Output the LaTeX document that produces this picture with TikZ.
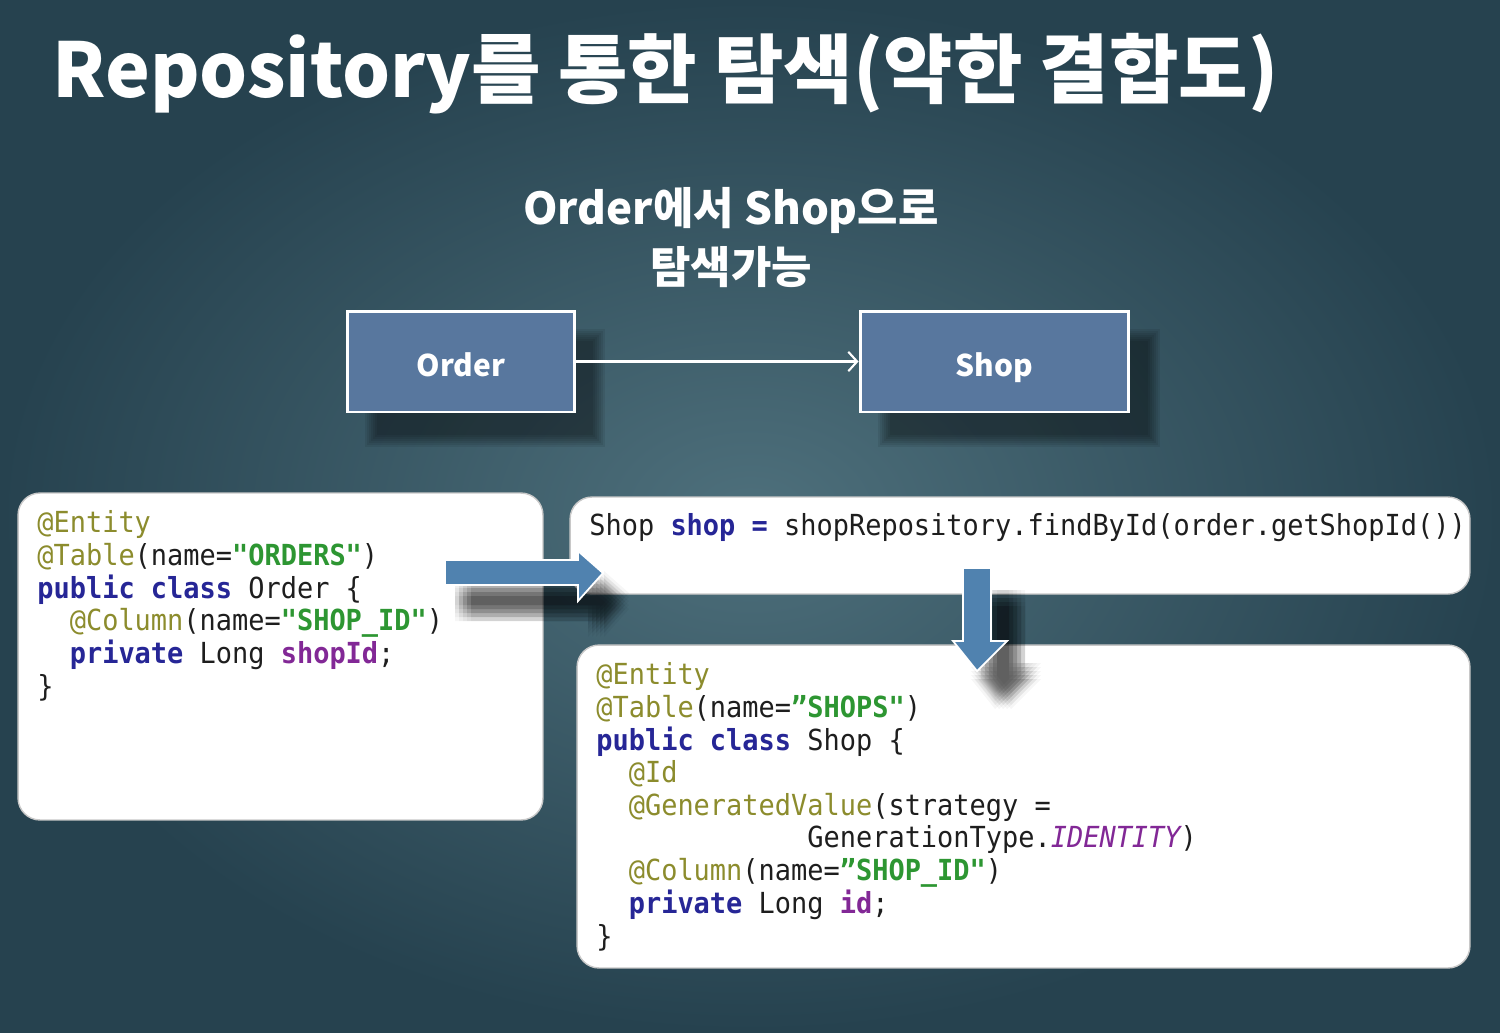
\documentclass[tikz,border=0pt]{standalone}
\usepackage{fontspec}
\setmainfont{Noto Sans CJK KR}
\setmonofont{DejaVu Sans Mono}[FakeStretch=0.93]
\usetikzlibrary{arrows.meta}

\definecolor{bgbase}{RGB}{50,82,95}
\definecolor{bglight}{RGB}{78,112,124}
\definecolor{bgdark}{RGB}{38,66,79}
\definecolor{entityfill}{RGB}{88,119,158}
\definecolor{arrowblue}{RGB}{80,130,175}
\definecolor{anno}{RGB}{140,140,45}
\definecolor{kwc}{RGB}{38,38,150}
\definecolor{strc}{RGB}{45,150,50}
\definecolor{fldc}{RGB}{130,40,150}
\definecolor{plainc}{RGB}{30,30,30}
\definecolor{boxedge}{RGB}{200,200,200}

\newcommand\cAn[1]{\textcolor{anno}{#1}}
\newcommand\cKw[1]{\textcolor{kwc}{\bfseries #1}}
\newcommand\cSt[1]{\textcolor{strc}{\bfseries #1}}
\newcommand\cFd[1]{\textcolor{fldc}{\bfseries #1}}

\newcommand\harrowpath[1]{\path[#1] (445,560) -- (578,560) -- (578,551) -- (603,573) -- (578,601) -- (578,585) -- (445,585) -- cycle;}
\newcommand\varrowpath[1]{\path[#1] (963,568) -- (991,568) -- (991,641) -- (1007,641) -- (977,671) -- (953,641) -- (963,641) -- cycle;}
\newcommand\softshadow[4]{%
  \foreach \k in {0,2,...,12} {\fill[black,opacity=0.075] (#1+\k,#2+\k) rectangle (#3-\k,#4-\k);}}

\tikzset{
  titlestyle/.style={text=white, inner sep=0, font=\fontsize{43}{50}\selectfont\bfseries},
  substyle/.style={text=white, inner sep=0, font=\fontsize{25}{30}\selectfont\bfseries},
  entity/.style={draw=white, line width=1.7pt, fill=entityfill, text=white,
    font=\fontsize{17}{20}\selectfont\bfseries, minimum height=2.02cm, inner sep=0,
    text height=18pt, text depth=1pt},
  codebox/.style={draw=boxedge, line width=0.8pt, fill=white, rounded corners=0.44cm, inner sep=0},
  codeline/.style={anchor=base west, inner sep=0, text=plainc, font=\ttfamily\fontsize{16.5}{18}\selectfont},
  blockarrow/.style={fill=arrowblue, draw=white, line width=1pt, line join=miter},
}

\begin{document}
\begin{tikzpicture}[x=0.02cm, y=-0.02cm]
\useasboundingbox (0,0) rectangle (1500,1032);
% background
\fill[bgbase] (0,0) rectangle (1500,1032);
\shade[inner color=bglight, outer color=bgdark] (0,0) rectangle (1500,1032);

% title
\node[titlestyle, anchor=base west] (title) at (52,97) {Repository를 통한 탐색(약한 결합도)};
\node[substyle, anchor=base] (sub1) at (731,224) {Order에서 Shop으로};
\node[substyle, anchor=base] (sub2) at (731,283) {탐색가능};

% entity shadows
\softshadow{365}{329}{605}{447}
\softshadow{878}{329}{1160}{447}

% entities
\node[entity, minimum width=4.56cm] (order) at (461,361.5) {Order};
\node[entity, minimum width=5.38cm] (shop) at (994.5,361.5) {Shop};
\draw[white, line width=1.2pt, -{Straight Barb[length=5pt,width=11pt]}] (order) -- (shop);

% code boxes
\node[codebox, minimum width=10.5cm, minimum height=6.54cm] (leftbox) at (280.5,656.5) {};
\node[codebox, minimum width=18cm, minimum height=1.94cm] (querybox) at (1020,545.5) {};
\node[codebox, minimum width=17.86cm, minimum height=6.46cm] (shopbox) at (1023.5,806.5) {};

% left code
\node[codeline] (l1) at (37,532) {\cAn{@Entity}};
\node[codeline] (l2) at (37,565) {\cAn{@Table}(name=\cSt{"ORDERS"})};
\node[codeline] (l3) at (37,598) {\cKw{public class} Order \{};
\node[codeline] (l4) at (37,630) {\phantom{xx}\cAn{@Column}(name=\cSt{"SHOP\_ID"})};
\node[codeline] (l5) at (37,663) {\phantom{xx}\cKw{private} Long \cFd{shopId};};
\node[codeline] (l6) at (37,696) {\}};

% query code
\node[codeline] (q1) at (589,535) {Shop \cKw{shop} \cKw{=} shopRepository.findById(order.getShopId())};

% shop code
\node[codeline] (r1) at (596,684) {\cAn{@Entity}};
\node[codeline] (r2) at (596,717) {\cAn{@Table}(name=\cSt{”SHOPS"})};
\node[codeline] (r3) at (596,750) {\cKw{public class} Shop \{};
\node[codeline] (r4) at (596,782) {\phantom{xx}\cAn{@Id}};
\node[codeline] (r5) at (596,815) {\phantom{xx}\cAn{@GeneratedValue}(strategy =};
\node[codeline] (r6) at (596,847) {\phantom{xxxxxxxxxxxxx}GenerationType.\textcolor{fldc}{\itshape IDENTITY})};
\node[codeline] (r7) at (596,880) {\phantom{xx}\cAn{@Column}(name=\cSt{”SHOP\_ID"})};
\node[codeline] (r8) at (596,913) {\phantom{xx}\cKw{private} Long \cFd{id};};
\node[codeline] (r9) at (596,946) {\}};

% block arrow shadows (soft)
\foreach \dx in {-8,-4,0,4,8} {
  \foreach \dy in {-8,-4,0,4,8} {
    \begin{scope}[shift={(18+\dx,28+\dy)}]
      \harrowpath{fill=black,opacity=0.035}
    \end{scope}
    \begin{scope}[shift={(26+\dx,30+\dy)}]
      \varrowpath{fill=black,opacity=0.035}
    \end{scope}
  }
}
% block arrows
\harrowpath{blockarrow}
\varrowpath{blockarrow}
\end{tikzpicture}
\end{document}
